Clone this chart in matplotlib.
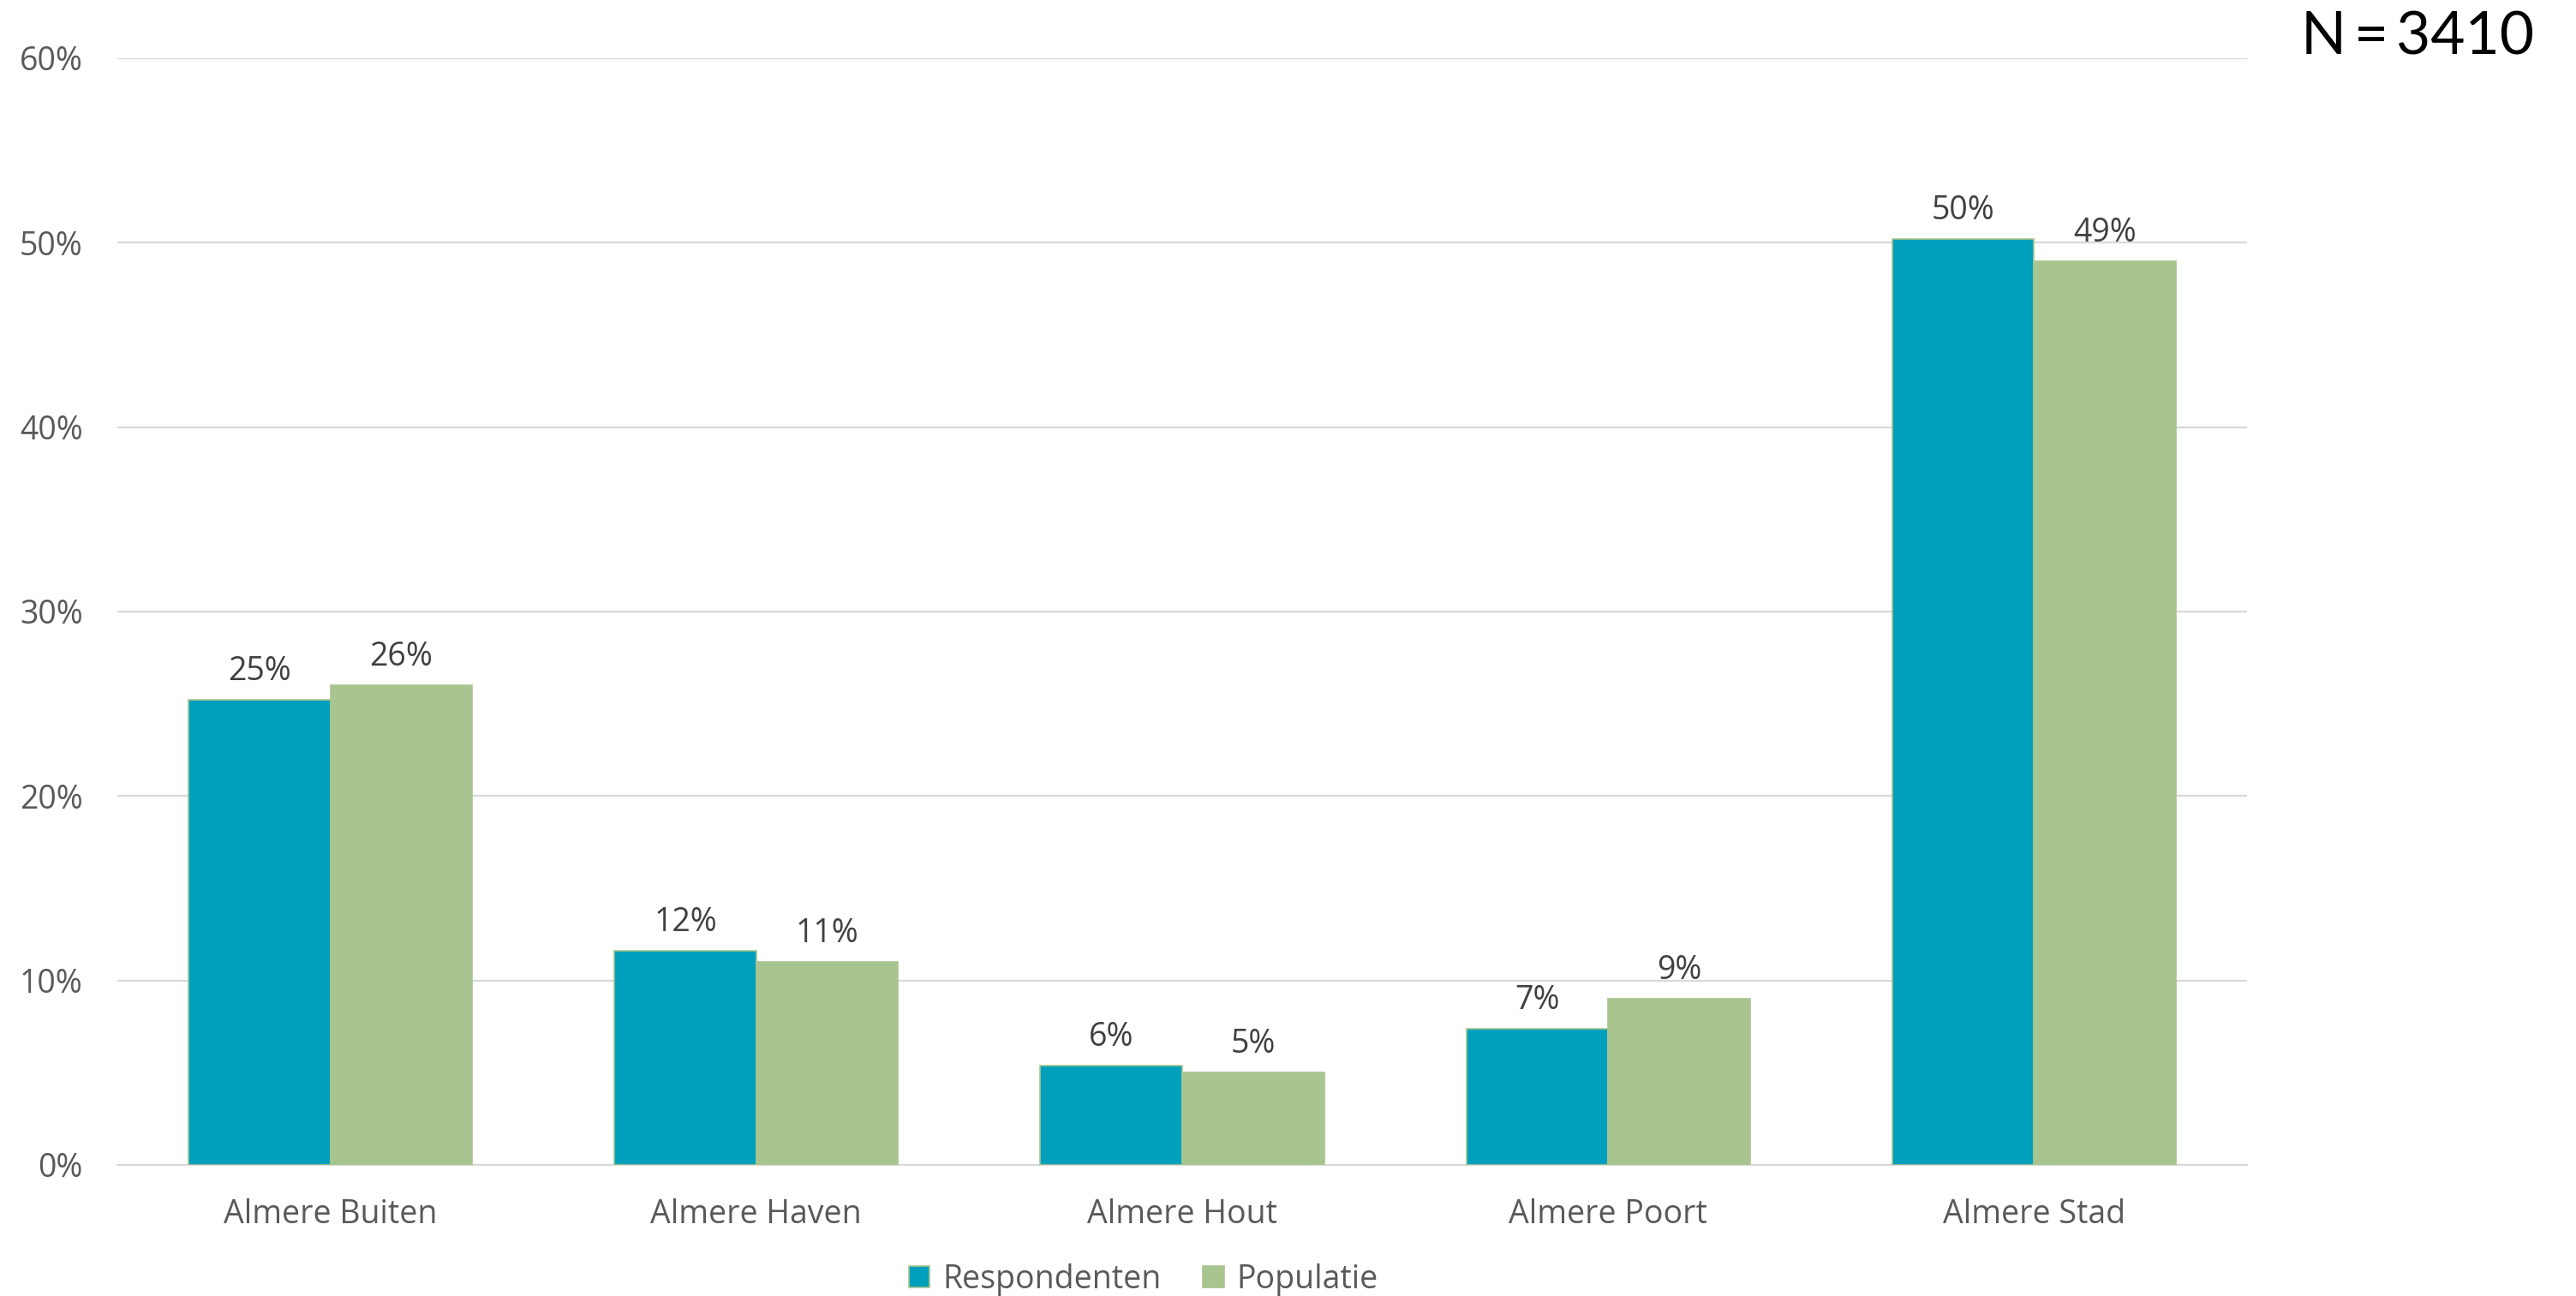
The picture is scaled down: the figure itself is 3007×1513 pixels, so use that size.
import matplotlib.pyplot as plt
import numpy as np

wijken = ['Almere Buiten', 'Almere Haven', 'Almere Hout', 'Almere Poort', 'Almere Stad']
respondenten = [25.2, 11.6, 5.4, 7.4, 50.2]
populatie = [26.0, 11.0, 5.0, 9.0, 49.0]
labels_resp = ['25%', '12%', '6%', '7%', '50%']
labels_pop = ['26%', '11%', '5%', '9%', '49%']

plt.rcParams['font.family'] = ['Open Sans', 'DejaVu Sans']

fig = plt.figure(figsize=(15.035, 7.565), dpi=200)
# axes: x 137..2623 px, y 68..1360 px
ax = fig.add_axes([137 / 3007, 1 - 1360 / 1513, (2623 - 137) / 3007, (1360 - 68) / 1513])

x = np.arange(len(wijken))
w = 0.333
b1 = ax.bar(x - w / 2, respondenten, w, color='#00A0BD', edgecolor='#A9C58F',
            linewidth=0.6, label='Respondenten', zorder=3)
b2 = ax.bar(x + w / 2, populatie, w, color='#A9C58F', edgecolor='#A9C58F',
            linewidth=0.6, label='Populatie', zorder=3)

ax.bar_label(b1, labels=labels_resp, padding=5, fontsize=13.5, color='#404040')
ax.bar_label(b2, labels=labels_pop, padding=5, fontsize=13.5, color='#404040')

ax.set_ylim(0, 60)
ax.set_xlim(-0.5, len(wijken) - 0.5)
ax.set_yticks(np.arange(0, 61, 10))
ax.set_yticklabels([f'{v}%' for v in range(0, 61, 10)])
ax.set_xticks(x)
ax.set_xticklabels(wijken)
ax.tick_params(axis='y', length=0, pad=14.5, labelsize=13.5, labelcolor='#595959')
ax.tick_params(axis='x', length=0, pad=14, labelsize=13.5, labelcolor='#595959')

ax.grid(axis='y', color='#D9D9D9', linewidth=0.8, zorder=0)
for s in ['top', 'right', 'left']:
    ax.spines[s].set_visible(False)
ax.spines['bottom'].set_color('#D9D9D9')
ax.spines['bottom'].set_linewidth(0.8)

fig.legend(handles=[b1, b2], loc='center', bbox_to_anchor=(0.444, 1 - 1494 / 1513),
           ncol=2, frameon=False, fontsize=13.5, labelcolor='#595959',
           handlelength=0.65, handleheight=0.65, handletextpad=0.4, columnspacing=1.3)

fig.text(2958 / 3007, 1 - 13 / 1513, 'N\u2009=\u20093410', ha='right', va='top', fontsize=25,
         family=['Lato', 'DejaVu Sans'], color='black')

fig.savefig('out.png', dpi=200, facecolor='white')
